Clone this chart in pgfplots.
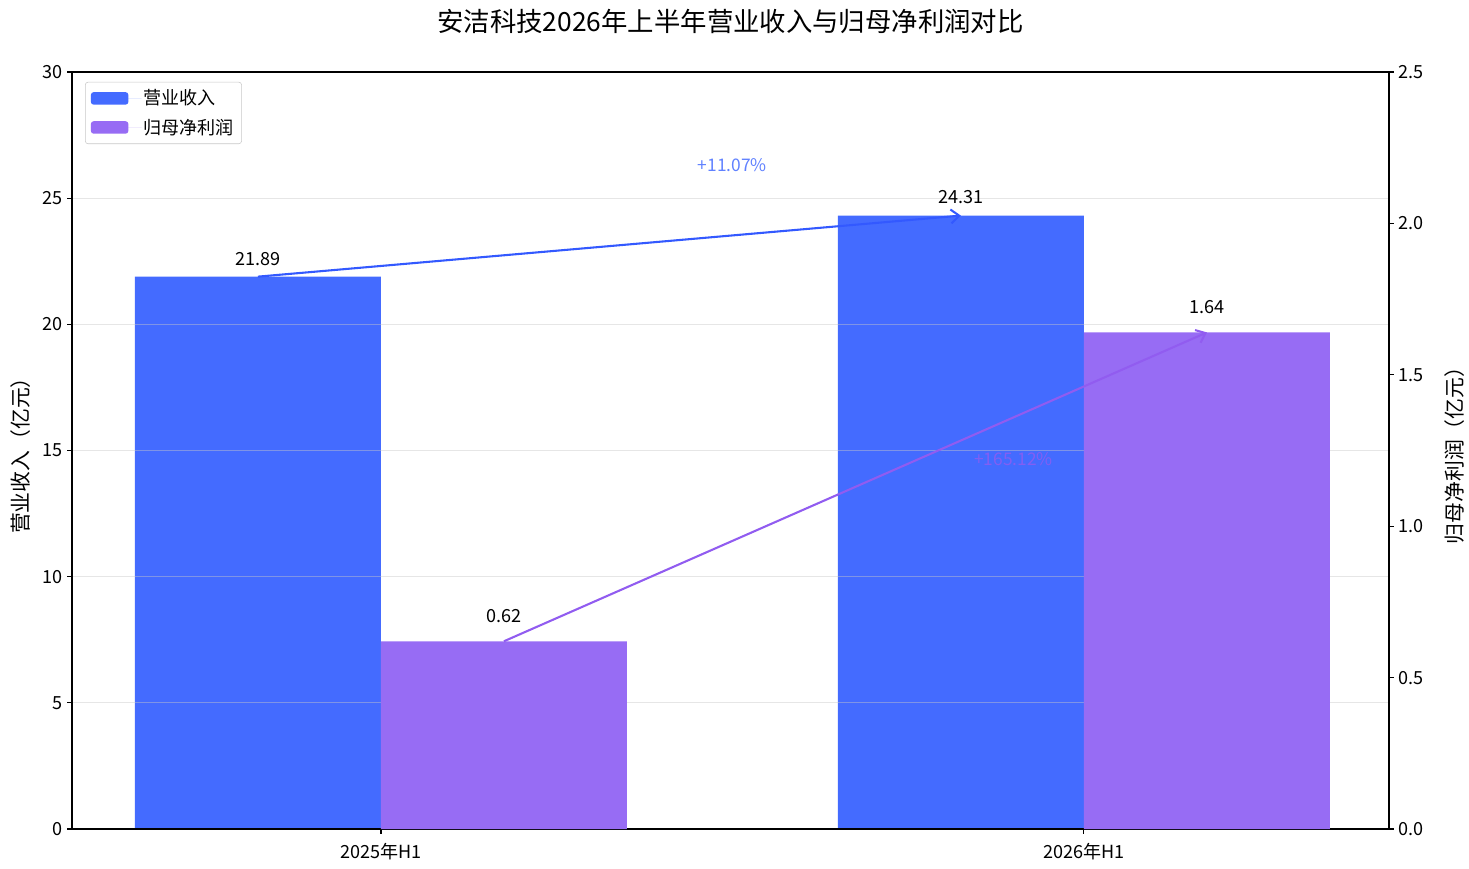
\documentclass[border=0pt]{standalone}
\usepackage{fontspec}
\setmainfont{Noto Sans CJK SC}
\usepackage{pgfplots}
\pgfplotsset{compat=1.18}
\usetikzlibrary{arrows.meta}
\definecolor{cblue}{RGB}{68,107,255}
\definecolor{cpurp}{RGB}{151,108,244}
\definecolor{ablue}{RGB}{51,89,255}
\definecolor{apurp}{RGB}{145,92,240}
\definecolor{gridc}{RGB}{200,200,200}
\newcommand{\fs}[1]{\fontsize{#1}{#1}\selectfont}
\pgfplotsset{
  common/.style={
    at={(0,0)}, anchor=south west,
    scale only axis, width=948.24pt, height=545.04pt,
    xmin=-0.4395, xmax=1.434,
    tick align=outside, major tick length=3.5pt,
    every tick/.style={black, line width=0.8pt},
    axis line style={line width=1pt, black},
    ticklabel style={font=\fs{13}},
    /pgf/number format/assume math mode=true,
  }
}
\begin{document}
\begin{tikzpicture}
\path[use as bounding box] (-51.84pt,-28.08pt) rectangle (1005.84pt,596.88pt);
\begin{axis}[common,
  ymin=0, ymax=30, ytick={0,5,...,30},
  xtick={0,1}, xticklabels={2025年H1,2026年H1},
  xticklabel style={yshift=-3pt},
  xtick pos=left, ytick pos=left,
  ymajorgrids, grid style={gridc, opacity=0.45, line width=0.8pt},
  axis on top,
  ylabel={营业收入（亿元）},
  every axis y label/.style={at={(axis description cs:-0.0394,0.5)}, rotate=90, anchor=center, font=\fs{15}},
  title={安洁科技2026年上半年营业收入与归母净利润对比},
  title style={font=\fs{19}, at={(axis description cs:0.5,1)}, anchor=center, yshift=30.5pt},
]
\addplot[ybar, bar width=0.35, bar shift=0pt, fill=cblue, draw=none,
  nodes near coords={\pgfmathprintnumber[fixed,precision=2,fixed zerofill]{\pgfplotspointmeta}},
  nodes near coords style={font=\fs{13}, black, anchor=south, inner sep=0pt, yshift=8pt}]
  coordinates {(-0.175,21.89) (0.825,24.31)};
\addplot[ablue, line width=1.5pt, -{Straight Barb[length=6pt,width=10pt,line width=1.5pt]}]
  coordinates {(-0.175,21.89) (0.825,24.31)};
\node[font=\fs{12.5}, text=cblue, text opacity=0.85] at (axis cs:0.5,26.31) {+11.07\%};
\end{axis}
\begin{axis}[common,
  ymin=0, ymax=2.5, ytick={0,0.5,...,2.5},
  axis y line*=right, axis x line=none,
  yticklabel style={/pgf/number format/fixed, /pgf/number format/precision=1, /pgf/number format/fixed zerofill},
  ylabel={归母净利润（亿元）},
  every axis y label/.style={at={(axis description cs:1.0501,0.5)}, rotate=90, anchor=center, font=\fs{15}},
  legend image code/.code={\fill[#1] (0pt,-4.5pt) rectangle (27pt,4.5pt); \path (0pt,0pt) -- (36.5pt,0pt);},
  legend style={at={(0.0099,0.987)}, anchor=north west, draw=gridc, rounded corners=2pt,
    font=\fs{13}, inner xsep=4pt, inner ysep=4pt, row sep=5.5pt,
    nodes={inner sep=1.5pt}},
  legend cell align=left,
]
\addlegendimage{fill=cblue, draw=none}
\addlegendentry{营业收入}
\addplot[ybar, bar width=0.35, bar shift=0pt, fill=cpurp, draw=none,
  nodes near coords={\pgfmathprintnumber[fixed,precision=2,fixed zerofill]{\pgfplotspointmeta}},
  nodes near coords style={font=\fs{13}, black, anchor=south, inner sep=0pt, yshift=13pt}]
  coordinates {(0.175,0.62) (1.175,1.64)};
\addlegendentry{归母净利润}
\addplot[apurp, line width=1.5pt, -{Straight Barb[length=6pt,width=10pt,line width=1.5pt]}, forget plot]
  coordinates {(0.175,0.62) (1.175,1.64)};
\node[font=\fs{12.5}, text=apurp, text opacity=0.8] at (axis cs:0.9,1.222) {+165.12\%};
\end{axis}
\end{tikzpicture}
\end{document}
